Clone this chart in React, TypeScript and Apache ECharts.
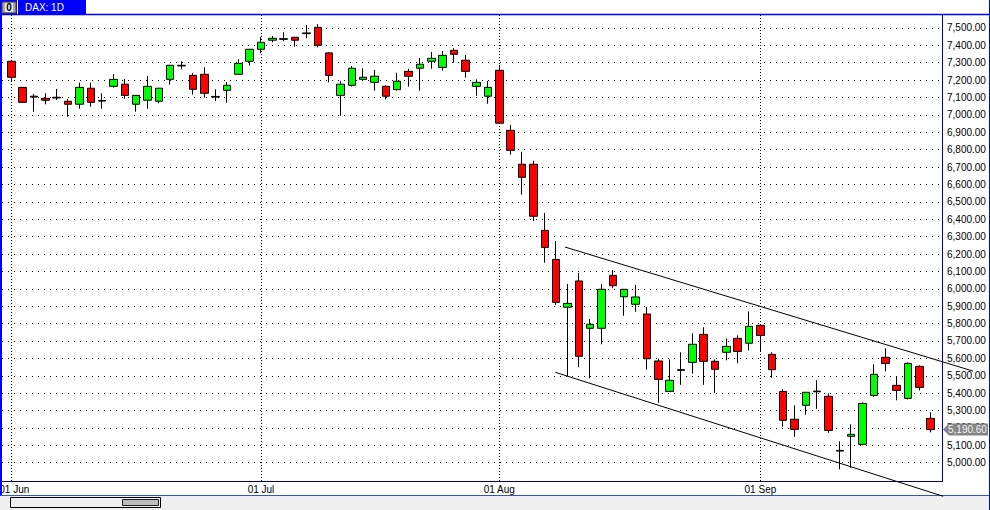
import React, { useEffect, useRef } from 'react';
import * as echarts from 'echarts';

const chartTitle = 'DAX: 1D';

const dates = [
  '2011-06-01', '2011-06-02', '2011-06-03', '2011-06-06', '2011-06-07', '2011-06-08', '2011-06-09', '2011-06-10',
  '2011-06-13', '2011-06-14', '2011-06-15', '2011-06-16', '2011-06-17', '2011-06-20', '2011-06-21', '2011-06-22',
  '2011-06-23', '2011-06-24', '2011-06-27', '2011-06-28', '2011-06-29', '2011-06-30',
  '2011-07-01', '2011-07-04', '2011-07-05', '2011-07-06', '2011-07-07', '2011-07-08', '2011-07-11', '2011-07-12',
  '2011-07-13', '2011-07-14', '2011-07-15', '2011-07-18', '2011-07-19', '2011-07-20', '2011-07-21', '2011-07-22',
  '2011-07-25', '2011-07-26', '2011-07-27', '2011-07-28', '2011-07-29',
  '2011-08-01', '2011-08-02', '2011-08-03', '2011-08-04', '2011-08-05', '2011-08-08', '2011-08-09', '2011-08-10',
  '2011-08-11', '2011-08-12', '2011-08-15', '2011-08-16', '2011-08-17', '2011-08-18', '2011-08-19', '2011-08-22',
  '2011-08-23', '2011-08-24', '2011-08-25', '2011-08-26', '2011-08-29', '2011-08-30', '2011-08-31',
  '2011-09-01', '2011-09-02', '2011-09-05', '2011-09-06', '2011-09-07', '2011-09-08', '2011-09-09', '2011-09-12',
  '2011-09-13', '2011-09-14', '2011-09-15', '2011-09-16', '2011-09-19', '2011-09-20', '2011-09-21', '2011-09-22',
];

const opens = [
  7308, 7158, 7107, 7095, 7101, 7078, 7061, 7153, 7083, 7164, 7176, 7061, 7084, 7078, 7204, 7285, 7227, 7233, 7106, 7141,
  7233, 7308, 7377, 7429, 7438, 7446, 7471, 7503, 7356, 7112, 7170, 7204, 7187, 7164, 7145, 7250, 7268, 7308, 7273, 7371,
  7314, 7164, 7107, 7256, 6911, 6716, 6716, 6336, 6169, 5894, 6045, 5773, 5773, 6077, 5954, 5911, 5855, 5585, 5410, 5535,
  5577, 5738, 5583, 5635, 5715, 5687, 5790, 5623, 5410, 5250, 5330, 5412, 5382, 5071, 5152, 5106, 5387, 5606, 5445, 5370,
  5554, 5255,
];
const closes = [
  7216, 7072, 7102, 7084, 7097, 7061, 7158, 7072, 7079, 7204, 7112, 7112, 7164, 7153, 7285, 7281, 7147, 7124, 7102, 7170,
  7296, 7377, 7417, 7440, 7434, 7429, 7467, 7400, 7227, 7176, 7268, 7216, 7222, 7107, 7193, 7222, 7291, 7325, 7342, 7348,
  7250, 7187, 7158, 6952, 6796, 6641, 6417, 6238, 5922, 5916, 5612, 5796, 5997, 6018, 5997, 5953, 5598, 5479, 5474, 5531,
  5681, 5583, 5537, 5669, 5640, 5784, 5732, 5535, 5244, 5192, 5405, 5408, 5186, 5067, 5163, 5341, 5508, 5571, 5416, 5571,
  5433, 5190.6,
];
const lows = [
  7195, 7068, 7018, 7061, 7085, 6990, 7035, 7047, 7035, 7156, 7093, 7018, 7035, 7066, 7173, 7262, 7116, 7099, 7078, 7070,
  7231, 7283, 7354, 7417, 7423, 7392, 7440, 7388, 7187, 6995, 7162, 7195, 7139, 7089, 7139, 7162, 7139, 7265, 7254, 7300,
  7214, 7110, 7064, 6948, 6771, 6541, 6390, 6150, 5907, 5498, 5549, 5485, 5681, 6003, 5845, 5868, 5535, 5345, 5408, 5448,
  5512, 5448, 5402, 5589, 5572, 5646, 5639, 5489, 5207, 5149, 5276, 5310, 5172, 4962, 4971, 5100, 5379, 5525, 5359, 5364,
  5416, 5175,
];
const highs = [
  7310, 7160, 7120, 7124, 7149, 7091, 7185, 7185, 7124, 7235, 7206, 7114, 7223, 7155, 7287, 7308, 7239, 7273, 7147, 7189,
  7319, 7379, 7446, 7453, 7475, 7448, 7517, 7521, 7360, 7195, 7281, 7268, 7258, 7170, 7242, 7265, 7327, 7361, 7367, 7383,
  7344, 7204, 7195, 7287, 6942, 6786, 6736, 6436, 6275, 6027, 6092, 5826, 6027, 6108, 5999, 6022, 5895, 5598, 5594, 5635,
  5744, 5779, 5594, 5715, 5732, 5870, 5792, 5635, 5422, 5330, 5407, 5474, 5399, 5123, 5221, 5347, 5566, 5658, 5497, 5577,
  5560, 5290,
];

const priceTicks = [
  5000, 5100, 5200, 5300, 5400, 5500, 5600, 5700, 5800, 5900, 6000, 6100, 6200,
  6300, 6400, 6500, 6600, 6700, 6800, 6900, 7000, 7100, 7200, 7300, 7400, 7500,
];

// channel lines: [bar index, price]
const upperChannel = [[48.78, 6240], [84.73, 5527]];
const lowerChannel = [[47.93, 5520], [82.11, 4807]];

const monthNames = ['Jan', 'Feb', 'Mar', 'Apr', 'May', 'Jun', 'Jul', 'Aug', 'Sep', 'Oct', 'Nov', 'Dec'];

const FONT = '"Liberation Sans", Arial, sans-serif';

function fmtPrice(v: number) {
  return v.toLocaleString('en-US', { minimumFractionDigits: 2, maximumFractionDigits: 2 });
}

export default function App() {
  const ref = useRef<HTMLDivElement>(null);

  useEffect(() => {
    const el = ref.current as HTMLDivElement;
    const chart = echarts.init(el, null, { renderer: 'svg' });

    const monthStarts: { idx: number; label: string }[] = [];
    dates.forEach((d, i) => {
      const m = d.slice(5, 7);
      if (i === 0 || dates[i - 1].slice(5, 7) !== m) {
        monthStarts.push({ idx: i, label: d.slice(8, 10) + ' ' + monthNames[parseInt(m, 10) - 1] });
      }
    });
    const labelByIdx: Record<number, string> = {};
    monthStarts.forEach((m) => (labelByIdx[m.idx] = m.label));

    const candleData = dates.map((_, i) => [i, opens[i], closes[i], lows[i], highs[i]]);

    chart.setOption({
      animation: false,
      backgroundColor: '#ffffff',
      textStyle: { fontFamily: FONT },
      grid: { left: 2, right: 48, top: 15, bottom: 29, containLabel: false, outerBoundsMode: 'none' },
      xAxis: {
        type: 'value',
        min: -0.82,
        max: 82.0,
        axisLine: { show: false },
        axisTick: { show: false },
        splitLine: { show: false },
        axisLabel: {
          customValues: monthStarts.map((m) => m.idx),
          formatter: (v: number) => {
            const i = Math.round(v);
            const s = labelByIdx[i] || '';
            return i === monthStarts[0].idx ? '{first|' + s + '}' : s;
          },
          rich: {
            first: { padding: [0, 0, 0, 6], fontSize: 10, fontFamily: FONT, color: '#000' },
          },
          color: '#000',
          fontSize: 10,
          fontFamily: FONT,
          margin: 3,
          showMinLabel: true,
          showMaxLabel: true,
        },
      },
      yAxis: {
        type: 'value',
        position: 'right',
        min: 4895,
        max: 7574,
        scale: true,
        axisLine: { show: false },
        axisTick: { show: false },
        splitLine: { show: false },
        axisLabel: {
          customValues: priceTicks,
          formatter: (v: number) => fmtPrice(v),
          color: '#000',
          fontSize: 10,
          fontFamily: FONT,
          margin: 5,
          align: 'left',
        },
      },
      series: [
        {
          type: 'candlestick',
          data: candleData,
          barWidth: 8,
          itemStyle: {
            color: '#00ff00',
            color0: '#ff0000',
            borderColor: '#000000',
            borderColor0: '#000000',
            borderColorDoji: '#000000',
            borderWidth: 1,
          },
          markLine: {
            silent: true,
            z: 1,
            animation: false,
            symbol: ['none', 'none'],
            label: { show: false },
            emphasis: { disabled: true },
            data: [
              ...priceTicks.map((v) => ({ yAxis: v, lineStyle: { color: '#000', width: 1, type: [1, 5] } })),
              ...monthStarts.map((m) => ({ xAxis: m.idx, lineStyle: { color: '#000', width: 1, type: [1, 2] } })),
            ],
          },
        },
      ],
    });

    const px = (p: number[]) => chart.convertToPixel({ gridIndex: 0 }, p) as number[];
    const u0 = px(upperChannel[0]);
    const u1 = px(upperChannel[1]);
    const l0 = px(lowerChannel[0]);
    const l1 = px(lowerChannel[1]);
    const lastClose = closes[closes.length - 1];
    const tagY = px([closes.length - 1, lastClose])[1];

    const graphic: any[] = [
      // bottom grey strip
      { type: 'rect', shape: { x: 0, y: 495, width: 990, height: 15 }, style: { fill: '#f0f0f0' }, z: 20 },
      { type: 'line', shape: { x1: 0, y1: 495.5, x2: 990, y2: 495.5 }, style: { stroke: '#2a5db0', lineWidth: 1 }, z: 21 },
      // scrollbar
      { type: 'rect', shape: { x: 10.5, y: 497.5, width: 150, height: 10 }, style: { fill: '#f0f0f0', stroke: '#000', lineWidth: 1 }, z: 21 },
      { type: 'rect', shape: { x: 122.5, y: 499.5, width: 36, height: 6 }, style: { fill: '#bdbdbd', stroke: '#202020', lineWidth: 1 }, z: 22 },
      // title bar
      { type: 'rect', shape: { x: 0, y: 0, width: 86, height: 14 }, style: { fill: '#0000ff' }, z: 20 },
      { type: 'rect', shape: { x: 2, y: 2, width: 14, height: 11 }, style: { fill: '#a8a8a8', stroke: '#404040', lineWidth: 1 }, z: 21 },
      { type: 'rect', shape: { x: 5, y: 3, width: 8, height: 9 }, style: { fill: '#e8e8e8' }, z: 22 },
      {
        type: 'text', x: 9, y: 7.5, z: 23,
        style: { text: '0', fill: '#000', fontSize: 10, fontWeight: 'bold', fontFamily: FONT, align: 'center', verticalAlign: 'middle' },
      },
      { type: 'line', shape: { x1: 17.5, y1: 0, x2: 17.5, y2: 14 }, style: { stroke: '#ffffff', lineWidth: 1 }, z: 21 },
      {
        type: 'text', x: 25, y: 7.5, z: 23,
        style: { text: chartTitle, fill: '#ffffff', fontSize: 10, fontFamily: FONT, align: 'left', verticalAlign: 'middle' },
      },
      // frame lines
      { type: 'line', shape: { x1: 0, y1: 14.5, x2: 990, y2: 14.5 }, style: { stroke: '#0000ff', lineWidth: 1.5 }, z: 20 },
      { type: 'rect', shape: { x: 0, y: 14, width: 2, height: 482 }, style: { fill: '#0000ff' }, z: 20 },
      { type: 'line', shape: { x1: 942.5, y1: 14, x2: 942.5, y2: 481 }, style: { stroke: '#0000a8', lineWidth: 1 }, z: 20 },
      { type: 'line', shape: { x1: 0, y1: 481.5, x2: 943, y2: 481.5 }, style: { stroke: '#000080', lineWidth: 1 }, z: 20 },
      { type: 'line', shape: { x1: 989.5, y1: 0, x2: 989.5, y2: 510 }, style: { stroke: '#0000ff', lineWidth: 1 }, z: 24 },
      // channel lines
      { type: 'line', shape: { x1: u0[0], y1: u0[1], x2: u1[0], y2: u1[1] }, style: { stroke: '#000', lineWidth: 1 }, z: 25 },
      { type: 'line', shape: { x1: l0[0], y1: l0[1], x2: l1[0], y2: l1[1] }, style: { stroke: '#000', lineWidth: 1 }, z: 25 },
      // last price tag
      {
        type: 'polygon', z: 26,
        shape: { points: [[943, tagY], [949, tagY - 6], [988, tagY - 6], [988, tagY + 6], [949, tagY + 6]] },
        style: { fill: '#858585' },
      },
      {
        type: 'text', x: 948, y: tagY, z: 27,
        style: { text: fmtPrice(lastClose), fill: '#f4f4f4', fontSize: 10, fontFamily: FONT, align: 'left', verticalAlign: 'middle' },
      },
    ];

    chart.setOption({ graphic });

    return () => chart.dispose();
  }, []);

  return <div ref={ref} style={{ position: 'absolute', left: 0, top: 0, width: 990, height: 510 }} />;
}
